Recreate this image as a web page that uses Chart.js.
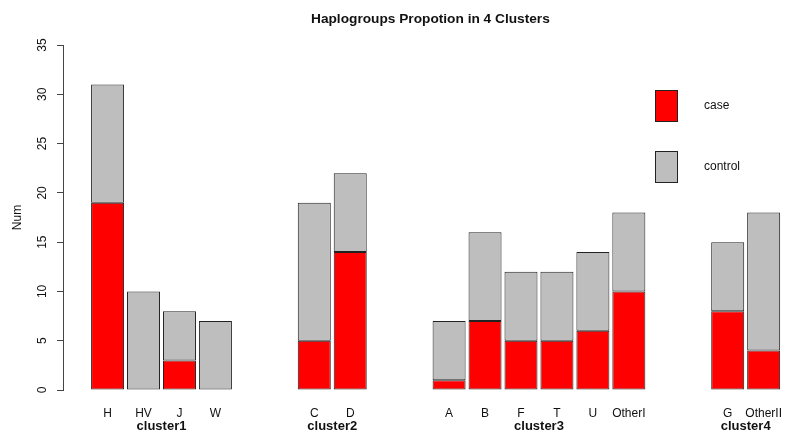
<!DOCTYPE html>
<html>
<head>
<meta charset="utf-8">
<script src="https://cdn.jsdelivr.net/npm/chart.js@4/dist/chart.umd.min.js"></script>
<style>
  html, body { margin: 0; padding: 0; background: #fff; }
  #wrap { width: 798px; height: 433px; }
</style>
</head>
<body>
<div id="wrap"><canvas id="c" width="798" height="433"></canvas></div>
<script>
const categories = ['H', 'HV', 'J', 'W', 'C', 'D', 'A', 'B', 'F', 'T', 'U', 'OtherI', 'G', 'OtherII'];
const clusterIndex = [0, 0, 0, 0, 1, 1, 2, 2, 2, 2, 2, 2, 3, 3];
const clusterNames = ['cluster1', 'cluster2', 'cluster3', 'cluster4'];
const caseCounts = [19, 0, 3, 0, 5, 14, 1, 7, 5, 5, 6, 10, 8, 4];
const controlCounts = [12, 10, 5, 7, 14, 8, 6, 9, 7, 7, 8, 8, 7, 14];
const seriesNames = ['case', 'control'];

const CLUSTER_GAP = 1.75;
const xPos = categories.map((c, i) => i + clusterIndex[i] * CLUSTER_GAP);
const clusterPos = clusterNames.map((n, k) => {
  const p = xPos.filter((v, i) => clusterIndex[i] === k);
  return p.reduce((a, b) => a + b, 0) / p.length;
});

const FONT = "'Liberation Sans', Arial, sans-serif";
const X_MIN = -1.24, X_MAX = 19.2;

const legendPlugin = {
  id: 'rLegend',
  afterDraw(chart) {
    const ctx = chart.ctx;
    ctx.save();
    chart.data.datasets.forEach((ds, i) => {
      const x = 655, y = 90 + i * 61;
      ctx.fillStyle = ds.backgroundColor;
      ctx.fillRect(x, y, 22, 31);
      ctx.strokeStyle = '#222';
      ctx.lineWidth = 1;
      ctx.strokeRect(x + 0.5, y + 0.5, 22, 31);
      ctx.fillStyle = '#111';
      ctx.font = '12px ' + FONT;
      ctx.textBaseline = 'middle';
      ctx.textAlign = 'left';
      ctx.fillText(ds.label, 704, y + 16);
    });
    ctx.restore();
  }
};

new Chart(document.getElementById('c'), {
  type: 'bar',
  data: {
    datasets: [
      {
        label: seriesNames[0],
        data: xPos.map((x, i) => ({ x: x, y: caseCounts[i] })),
        backgroundColor: '#ff0000',
        borderColor: '#222',
        borderWidth: 1,
        borderSkipped: false,
        categoryPercentage: 1,
        barPercentage: 0.918
      },
      {
        label: seriesNames[1],
        data: xPos.map((x, i) => ({ x: x, y: controlCounts[i] })),
        backgroundColor: '#bebebe',
        borderColor: '#222',
        borderWidth: 1,
        borderSkipped: false,
        categoryPercentage: 1,
        barPercentage: 0.918
      }
    ]
  },
  options: {
    responsive: false,
    animation: false,
    layout: { padding: { left: 0, right: 0, top: 0, bottom: 0 } },
    plugins: {
      legend: { display: false },
      tooltip: { enabled: false },
      title: {
        display: true,
        text: 'Haplogroups Propotion in 4 Clusters',
        fullSize: false,
        color: '#111',
        font: { family: FONT, size: 13.7, weight: 'bold' },
        padding: { top: 11, bottom: 17.6 }
      }
    },
    scales: {
      x: {
        type: 'linear',
        position: 'bottom',
        stacked: true,
        offset: false,
        weight: 1,
        min: X_MIN,
        max: X_MAX,
        grid: { display: false, drawTicks: false, offset: false },
        border: { display: false },
        afterBuildTicks: (s) => { s.ticks = xPos.map(v => ({ value: v })); },
        afterFit: (s) => { s.height = 29; },
        ticks: {
          autoSkip: false,
          maxRotation: 0,
          minRotation: 0,
          padding: 16,
          color: '#111',
          font: { family: FONT, size: 12 },
          callback: (v) => { const i = xPos.indexOf(v); return i >= 0 ? categories[i] : ''; }
        }
      },
      x2: {
        type: 'linear',
        position: 'bottom',
        offset: false,
        weight: 2,
        min: X_MIN,
        max: X_MAX,
        grid: { display: false, drawTicks: false, offset: false },
        border: { display: false },
        afterBuildTicks: (s) => { s.ticks = clusterPos.map(v => ({ value: v })); },
        afterFit: (s) => { s.height = 14; },
        ticks: {
          autoSkip: false,
          maxRotation: 0,
          minRotation: 0,
          padding: 0,
          color: '#111',
          font: { family: FONT, size: 13, weight: 'bold' },
          callback: (v) => { const i = clusterPos.indexOf(v); return i >= 0 ? clusterNames[i] : ''; }
        }
      },
      y: {
        type: 'linear',
        stacked: true,
        min: 0,
        max: 35,
        afterFit: (s) => { s.width = 63; },
        grid: { display: true, drawOnChartArea: false, drawTicks: true, tickLength: 6, color: '#444' },
        border: { display: true, color: '#444', width: 1 },
        ticks: {
          stepSize: 5,
          minRotation: 90,
          maxRotation: 90,
          crossAlign: 'center',
          padding: 8,
          color: '#111',
          font: { family: FONT, size: 12 }
        },
        title: {
          display: true,
          text: 'Num',
          color: '#111',
          font: { family: FONT, size: 12 },
          padding: { top: 10, bottom: 0 }
        }
      }
    }
  },
  plugins: [legendPlugin]
});
</script>
</body>
</html>
